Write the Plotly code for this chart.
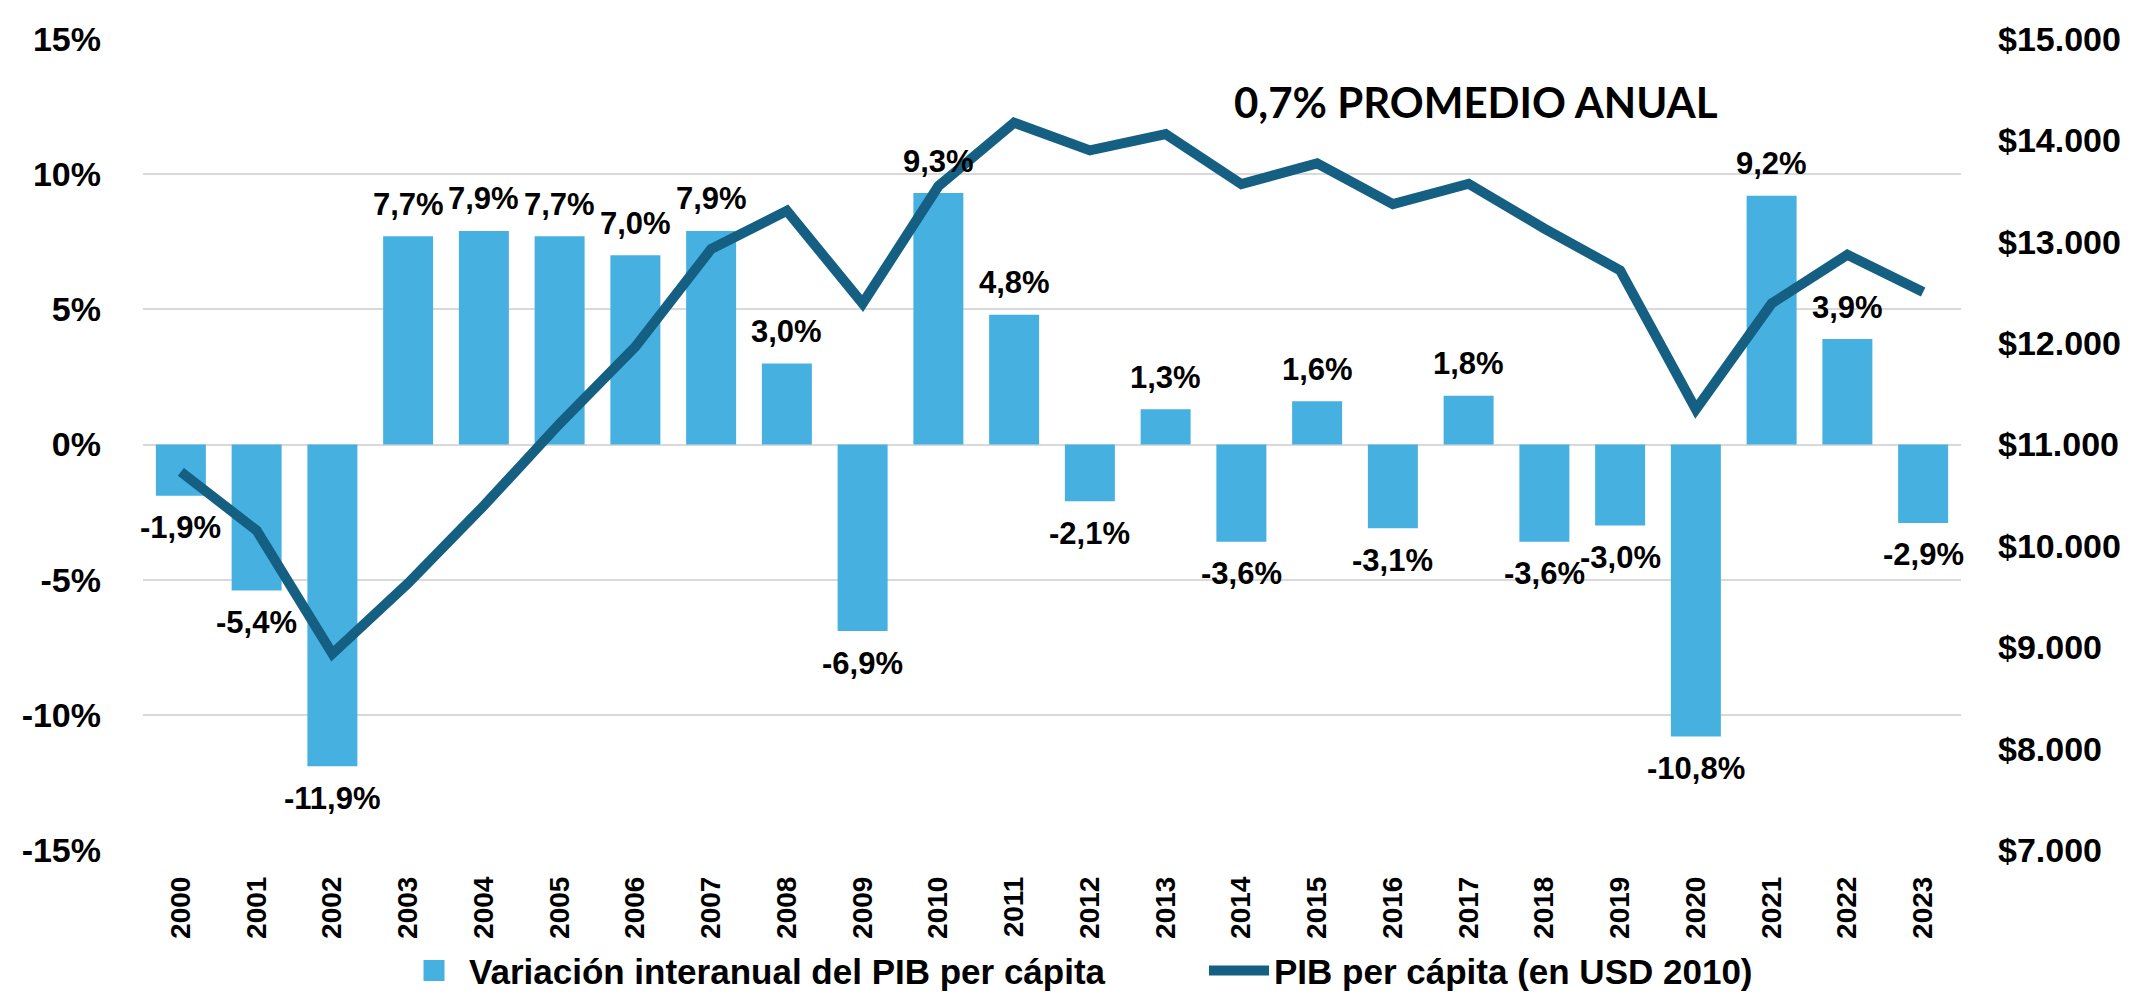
import plotly.graph_objects as go

years = list(range(2000, 2024))
variacion = [-1.9, -5.4, -11.9, 7.7, 7.9, 7.7, 7.0, 7.9, 3.0, -6.9, 9.3, 4.8,
             -2.1, 1.3, -3.6, 1.6, -3.1, 1.8, -3.6, -3.0, -10.8, 9.2, 3.9, -2.9]
pib_pc = [10730, 10152, 8937, 9631, 10397, 11206, 11964, 12928, 13305, 12391,
          13548, 14174, 13901, 14061, 13569, 13773, 13371, 13572, 13130, 12718,
          11347, 12391, 12872, 12504]
year_labels = [str(y) for y in years]
left_ticks = [-15, -10, -5, 0, 5, 10, 15]
left_labels = [f"{v}%" for v in left_ticks]
right_ticks = list(range(7000, 15001, 1000))
right_labels = ["$" + f"{v:,}".replace(",", ".") for v in right_ticks]

FONT = "Liberation Sans, Arial, sans-serif"
BAR_COLOR = "#46B1E1"
LINE_COLOR = "#156082"
BAR_NAME = "Variación interanual del PIB per cápita"
LINE_NAME = "PIB per cápita (en USD 2010)"

fig = go.Figure()
fig.add_trace(go.Bar(
    x=years, y=variacion, name=BAR_NAME, showlegend=False,
    marker=dict(color=BAR_COLOR, line=dict(width=0)), yaxis="y",
))
# legend entry with a large square swatch for the bar series
fig.add_trace(go.Scatter(
    x=[None], y=[None], name=BAR_NAME, mode="markers",
    marker=dict(symbol="square", size=36, color=BAR_COLOR,
                line=dict(color=BAR_COLOR, width=10)),
    legendrank=1,
))
fig.add_trace(go.Scatter(
    x=years, y=pib_pc, name=LINE_NAME, mode="lines",
    line=dict(color=LINE_COLOR, width=10), yaxis="y2", legendrank=2,
))

for yr, v in zip(years, variacion):
    fig.add_annotation(
        x=yr, y=v, xref="x", yref="y",
        text=(f"{v:.1f}%").replace(".", ","),
        showarrow=False, yshift=32 if v >= 0 else -32,
        xanchor="center", yanchor="middle",
        font=dict(family=FONT, size=31, color="black", weight="bold"),
    )

fig.add_annotation(
    x=(1468 - 135) / 1818, y=(856 - 90) / 830, xref="paper", yref="paper",
    xanchor="center", yanchor="middle",
    text="<b>0,7% PROMEDIO ANUAL</b>", showarrow=False,
    font=dict(family="Lato, Carlito, sans-serif", size=42, color="black"),
)

fig.update_layout(
    width=2141, height=1004,
    margin=dict(l=135, r=188, t=26, b=148),
    paper_bgcolor="white", plot_bgcolor="white",
    bargap=0.34,
    font=dict(family=FONT, color="black"),
    xaxis=dict(
        type="linear", range=[years[0] - 0.5, years[-1] + 0.5],
        tickvals=years, ticktext=year_labels,
        tickangle=-90, tickfont=dict(family=FONT, size=28, color="black", weight="bold"),
        showgrid=False, showline=False, zeroline=False, ticks="", ticklabelstandoff=20,
    ),
    yaxis=dict(
        range=[-15, 15], tickvals=left_ticks, ticktext=left_labels,
        tickfont=dict(family=FONT, size=34, color="black", weight="bold"),
        showgrid=True, gridcolor="#D9D9D9", gridwidth=2,
        zeroline=True, zerolinecolor="#D9D9D9", zerolinewidth=2,
        showline=False, ticks="", ticklabelstandoff=41,
    ),
    yaxis2=dict(
        range=[7000, 15000], tickvals=right_ticks, ticktext=right_labels,
        overlaying="y", side="right",
        tickfont=dict(family=FONT, size=34, color="black", weight="bold"),
        showgrid=False, zeroline=False, showline=False, ticks="", ticklabelstandoff=36,
    ),
    legend=dict(
        orientation="h", x=(391 - 135) / 1818, xanchor="left", y=-0.149, yanchor="middle",
        font=dict(family=FONT, size=35, color="black", weight="bold"),
        itemwidth=60, entrywidth=730, itemsizing="trace",
    ),
    showlegend=True,
)

fig.write_html("out.html")
